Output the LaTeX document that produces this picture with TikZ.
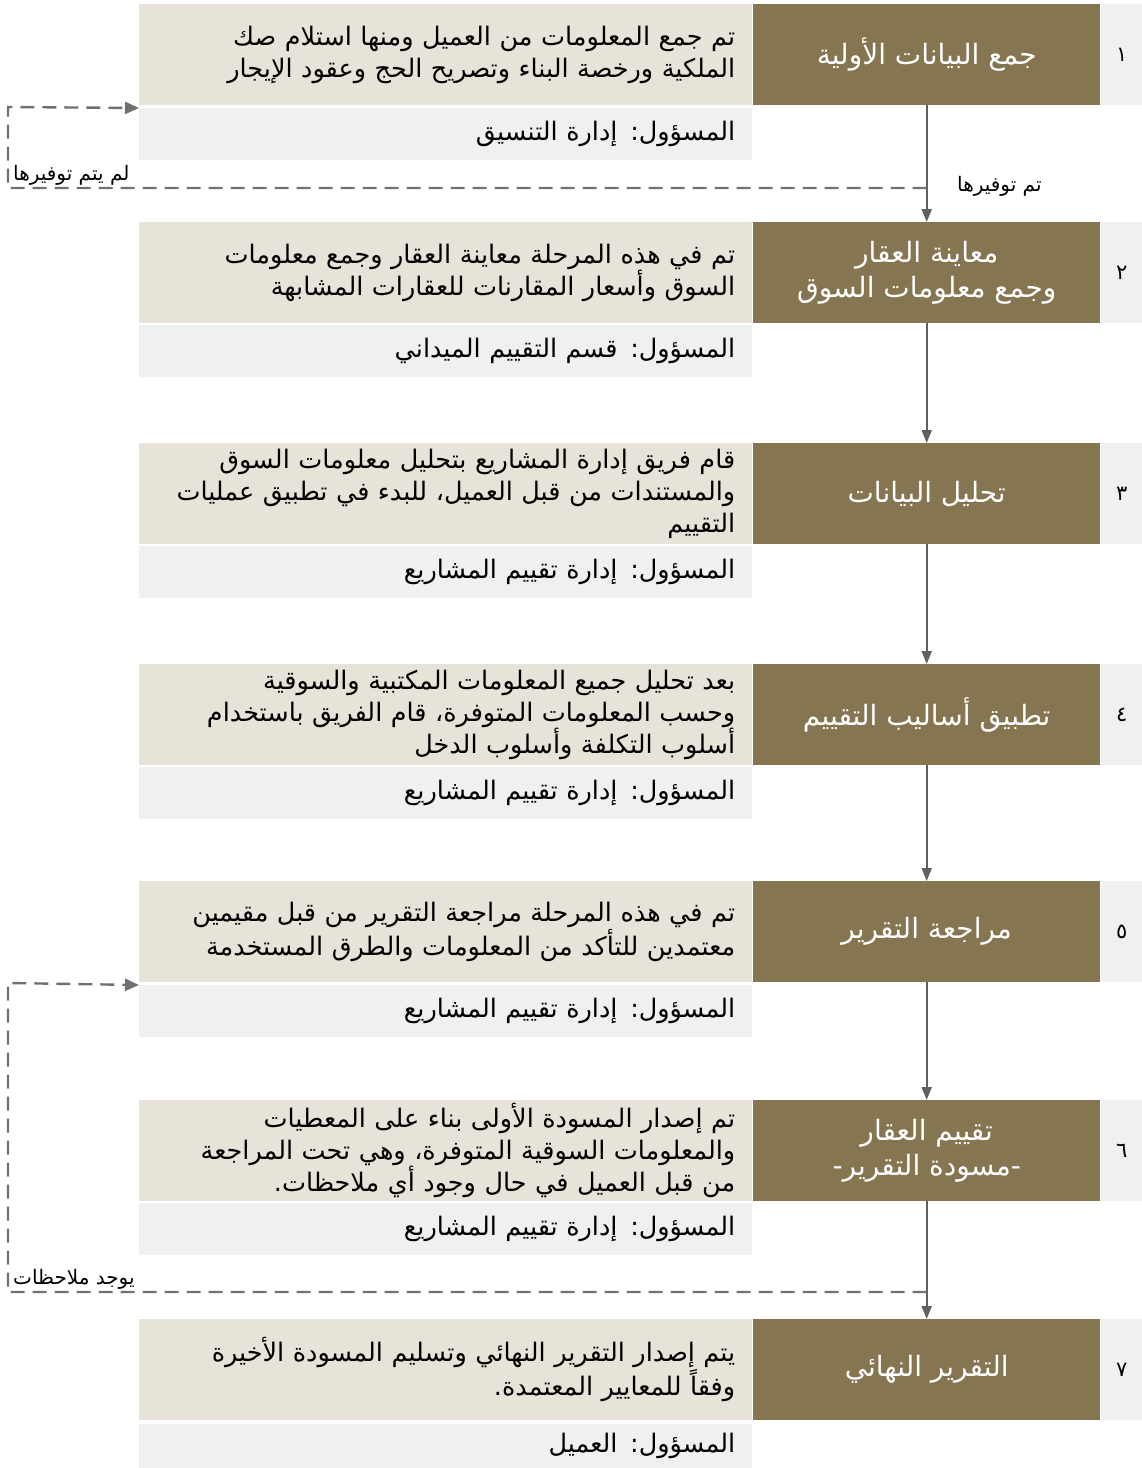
\documentclass[tikz,border=0pt]{standalone}
\usepackage{fontspec}
\usepackage{xcolor}
\usetikzlibrary{arrows.meta}
\TeXXeTstate=1
\newfontfamily\arabicfont[Script=Arabic]{DejaVu Sans}
\definecolor{stepbrown}{RGB}{133,117,80}
\definecolor{stepbeige}{RGB}{231,227,217}
\definecolor{stepgray}{RGB}{240,240,240}
\definecolor{linegray}{RGB}{96,96,96}
\definecolor{dashgray}{RGB}{112,112,112}

\tikzset{
  descbox/.style={rectangle, fill=stepbeige, anchor=north west, minimum width=613pt, minimum height=101pt,
    text width=579pt, inner xsep=17pt, inner ysep=0pt, align=right, font=\arabicfont\fontsize{25.5}{32}\selectfont},
  titlebox/.style={rectangle, fill=stepbrown, anchor=north west, minimum width=347pt, minimum height=101pt,
    text=white, align=center, inner sep=0pt, font=\arabicfont\fontsize{28}{35}\selectfont},
  numbox/.style={rectangle, fill=stepgray, anchor=north west, minimum width=41pt, minimum height=101pt,
    inner sep=0pt, font=\arabicfont\fontsize{21}{22}\selectfont},
  respbox/.style={rectangle, fill=stepgray, anchor=north west, minimum width=613pt, minimum height=52pt,
    text width=579pt, inner xsep=17pt, inner ysep=0pt, align=right, font=\arabicfont\fontsize{25.5}{30}\selectfont},
  flowarrow/.style={draw=linegray, line width=2pt, -{Triangle[width=10pt,length=13pt]}},
  loopline/.style={draw=dashgray, line width=2.4pt, dash pattern=on 14pt off 8pt},
  looparrow/.style={loopline, -{Triangle[width=12pt,length=14pt]}},
  looplabel/.style={inner sep=1pt, font=\arabicfont\fontsize{20}{22}\selectfont}
}

\begin{document}
\begin{tikzpicture}[x=1pt,y=-1pt]
  \useasboundingbox (0,0) rectangle (1142,1468);

  % step 1
  \node[descbox] (desc1) at (139,4) {\beginR تم جمع المعلومات من العميل ومنها استلام صك\endR\\
    \beginR الملكية ورخصة البناء وتصريح الحج وعقود الإيجار\endR};
  \node[titlebox] (title1) at (753,4) {\beginR جمع البيانات الأولية\endR};
  \node[numbox] (num1) at (1101,4) {١};
  \node[respbox] (resp1) at (139,108) {\beginR المسؤول: إدارة التنسيق\endR};

  % step 2
  \node[descbox] (desc2) at (139,222) {\beginR تم في هذه المرحلة معاينة العقار وجمع معلومات\endR\\
    \beginR السوق وأسعار المقارنات للعقارات المشابهة\endR};
  \node[titlebox] (title2) at (753,222) {\beginR معاينة العقار\endR\\ \beginR وجمع معلومات السوق\endR};
  \node[numbox] (num2) at (1101,222) {٢};
  \node[respbox] (resp2) at (139,325) {\beginR المسؤول: قسم التقييم الميداني\endR};

  % step 3
  \node[descbox] (desc3) at (139,443) {\beginR قام فريق إدارة المشاريع بتحليل معلومات السوق\endR\\
    \beginR والمستندات من قبل العميل، للبدء في تطبيق عمليات\endR\\
    \beginR التقييم\endR};
  \node[titlebox] (title3) at (753,443) {\beginR تحليل البيانات\endR};
  \node[numbox] (num3) at (1101,443) {٣};
  \node[respbox] (resp3) at (139,546) {\beginR المسؤول: إدارة تقييم المشاريع\endR};

  % step 4
  \node[descbox] (desc4) at (139,664) {\beginR بعد تحليل جميع المعلومات المكتبية والسوقية\endR\\
    \beginR وحسب المعلومات المتوفرة، قام الفريق باستخدام\endR\\
    \beginR أسلوب التكلفة وأسلوب الدخل\endR};
  \node[titlebox] (title4) at (753,664) {\beginR تطبيق أساليب التقييم\endR};
  \node[numbox] (num4) at (1101,664) {٤};
  \node[respbox] (resp4) at (139,767) {\beginR المسؤول: إدارة تقييم المشاريع\endR};

  % step 5
  \node[descbox] (desc5) at (139,881) {\beginR تم في هذه المرحلة مراجعة التقرير من قبل مقيمين\endR\\
    \beginR معتمدين للتأكد من المعلومات والطرق المستخدمة\endR};
  \node[titlebox] (title5) at (753,881) {\beginR مراجعة التقرير\endR};
  \node[numbox] (num5) at (1101,881) {٥};
  \node[respbox] (resp5) at (139,985) {\beginR المسؤول: إدارة تقييم المشاريع\endR};

  % step 6
  \node[descbox] (desc6) at (139,1100) {\beginR تم إصدار المسودة الأولى بناء على المعطيات\endR\\
    \beginR والمعلومات السوقية المتوفرة، وهي تحت المراجعة\endR\\
    \beginR من قبل العميل في حال وجود أي ملاحظات.\endR};
  \node[titlebox] (title6) at (753,1100) {\beginR تقييم العقار\endR\\ \beginR -مسودة التقرير-\endR};
  \node[numbox] (num6) at (1101,1100) {٦};
  \node[respbox] (resp6) at (139,1203) {\beginR المسؤول: إدارة تقييم المشاريع\endR};

  % step 7
  \node[descbox] (desc7) at (139,1319) {\beginR يتم إصدار التقرير النهائي وتسليم المسودة الأخيرة\endR\\
    \beginR وفقاً للمعايير المعتمدة.\endR};
  \node[titlebox] (title7) at (753,1319) {\beginR التقرير النهائي\endR};
  \node[numbox] (num7) at (1101,1319) {٧};
  \node[respbox, minimum height=44pt] (resp7) at (139,1424) {\beginR المسؤول: العميل\endR};

  % main flow
  \foreach \i/\j in {1/2,2/3,3/4,4/5,5/6,6/7}
    \draw[flowarrow] (title\i.south) -- (title\j.north);

  % return loops
  \coordinate (split1) at (title1.south |- 0,188);
  \coordinate (split6) at (title6.south |- 0,1292);
  \draw[looparrow] (split1) -- (8,188) -- (8,107) -- (resp1.north west);
  \draw[looparrow] (split6) -- (8,1292) -- (8,983) -- (resp5.north west);

  \node[looplabel, anchor=south west] (nosupply) at (12,187) {\beginR لم يتم توفيرها\endR};
  \node[looplabel, anchor=west] (supplied) at (956,186) {\beginR تم توفيرها\endR};
  \node[looplabel, anchor=south west] (notes) at (12,1291) {\beginR يوجد ملاحظات\endR};
\end{tikzpicture}
\end{document}
